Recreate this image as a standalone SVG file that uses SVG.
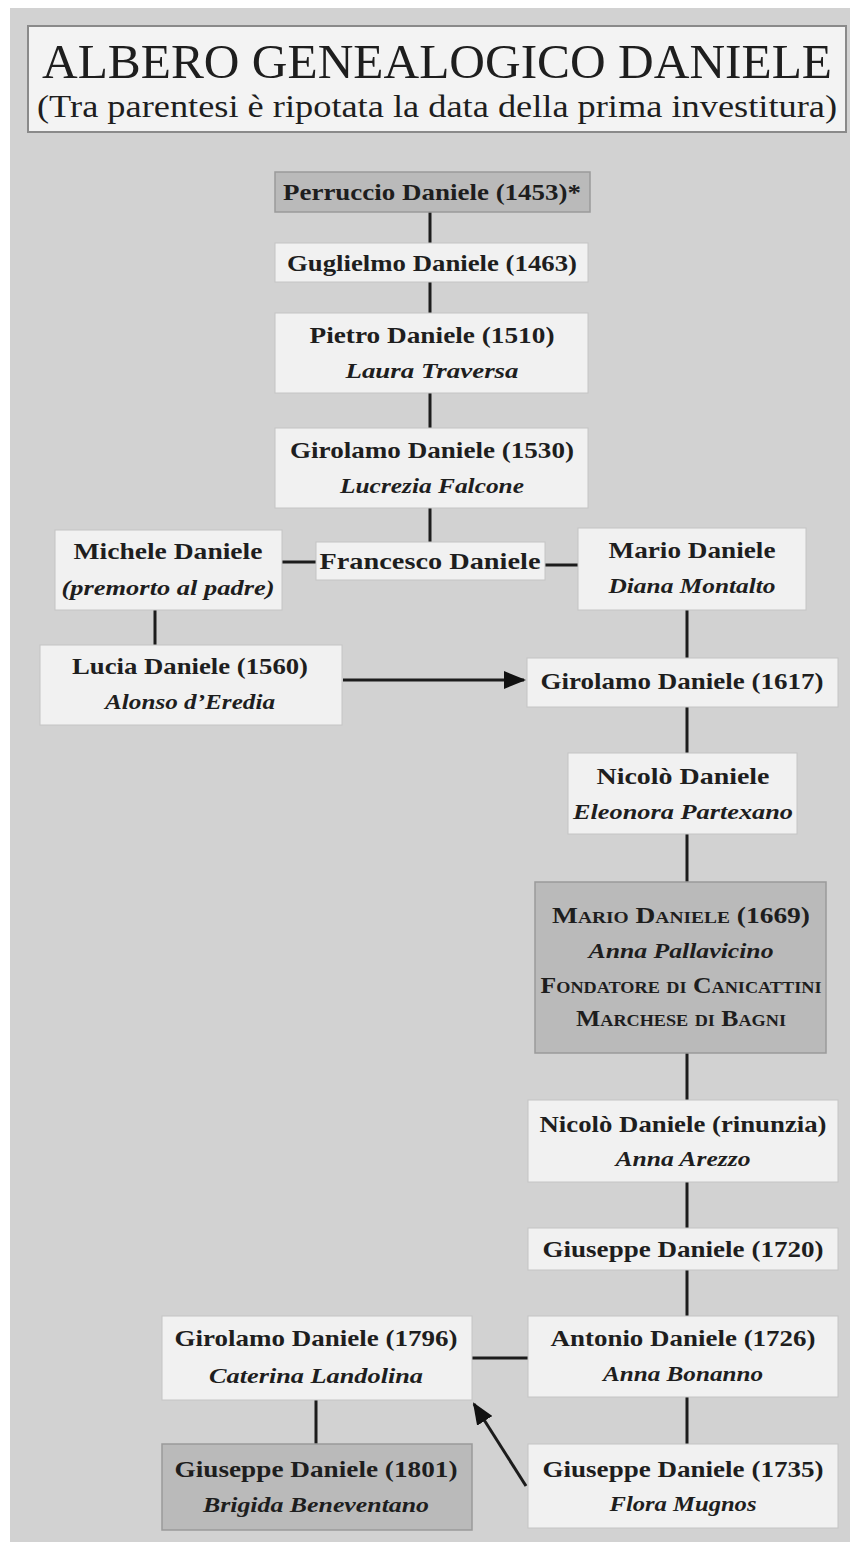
<svg xmlns="http://www.w3.org/2000/svg" width="854" height="1548" viewBox="0 0 854 1548">
<style>
.node{fill:#f1f1f1;stroke:#c4c4c4;stroke-width:1}
.dark{fill:#bababa;stroke:#9a9a9a;stroke-width:1.5}
text{font-family:"Liberation Serif","Times New Roman",serif;fill:#1e1e1e;text-anchor:middle}
.n{font-size:24px;font-weight:bold}
.i{font-size:21px;font-weight:bold;font-style:italic}
.sc{font-size:24px;font-weight:bold;font-variant:small-caps}
.ln{stroke:#1c1c1c;stroke-width:3;fill:none}
</style>
<defs>
<marker id="ah" markerWidth="22" markerHeight="18" refX="20" refY="9" orient="auto" markerUnits="userSpaceOnUse">
<path d="M0,0 L22,9 L0,18 Z" fill="#111"/>
</marker>
</defs>
<rect x="0" y="0" width="854" height="1548" fill="#ffffff"/>
<rect x="10" y="8" width="840" height="1534" fill="#d2d2d2"/>
<g id="title">
<rect x="28" y="26" width="818" height="106" fill="#f3f3f3" stroke="#8a8a8a" stroke-width="2"/>
<text x="437" y="78" style="font-size:49px" textLength="790" lengthAdjust="spacingAndGlyphs">ALBERO GENEALOGICO DANIELE</text>
<text x="437" y="117" style="font-size:31px" textLength="800" lengthAdjust="spacingAndGlyphs">(Tra parentesi è ripotata la data della prima investitura)</text>
</g>
<g id="connectors">
<line class="ln" x1="430" y1="212" x2="430" y2="243"/>
<line class="ln" x1="430" y1="282" x2="430" y2="313"/>
<line class="ln" x1="430" y1="393" x2="430" y2="428"/>
<line class="ln" x1="430" y1="508" x2="430" y2="542"/>
<line class="ln" x1="282" y1="562" x2="316" y2="562"/>
<line class="ln" x1="545" y1="565" x2="578" y2="565"/>
<line class="ln" x1="155" y1="610" x2="155" y2="645"/>
<line class="ln" x1="687" y1="610" x2="687" y2="658"/>
<line class="ln" x1="343" y1="680" x2="524" y2="680" marker-end="url(#ah)"/>
<line class="ln" x1="687" y1="707" x2="687" y2="753"/>
<line class="ln" x1="687" y1="834" x2="687" y2="882"/>
<line class="ln" x1="687" y1="1053" x2="687" y2="1100"/>
<line class="ln" x1="687" y1="1182" x2="687" y2="1228"/>
<line class="ln" x1="687" y1="1270" x2="687" y2="1316"/>
<line class="ln" x1="687" y1="1397" x2="687" y2="1444"/>
<line class="ln" x1="472" y1="1358" x2="528" y2="1358"/>
<line class="ln" x1="316" y1="1400" x2="316" y2="1444"/>
<line class="ln" x1="526" y1="1486" x2="474" y2="1404" marker-end="url(#ah)"/>
</g>
<g id="n1">
<rect class="dark" x="275" y="172" width="315" height="40"/>
<text class="n" x="432" y="200" textLength="298" lengthAdjust="spacingAndGlyphs">Perruccio Daniele (1453)*</text>
</g>
<g id="n2">
<rect class="node" x="275" y="243" width="313" height="39"/>
<text class="n" x="432" y="271" textLength="290" lengthAdjust="spacingAndGlyphs">Guglielmo Daniele (1463)</text>
</g>
<g id="n3">
<rect class="node" x="275" y="313" width="313" height="80"/>
<text class="n" x="432" y="343" textLength="245" lengthAdjust="spacingAndGlyphs">Pietro Daniele (1510)</text>
<text class="i" x="432" y="378" textLength="173" lengthAdjust="spacingAndGlyphs">Laura Traversa</text>
</g>
<g id="n4">
<rect class="node" x="275" y="428" width="313" height="80"/>
<text class="n" x="432" y="458" textLength="284" lengthAdjust="spacingAndGlyphs">Girolamo Daniele (1530)</text>
<text class="i" x="432" y="493" textLength="184" lengthAdjust="spacingAndGlyphs">Lucrezia Falcone</text>
</g>
<g id="n5">
<rect class="node" x="316" y="542" width="229" height="38"/>
<text class="n" x="430" y="569" textLength="221" lengthAdjust="spacingAndGlyphs">Francesco Daniele</text>
</g>
<g id="n6">
<rect class="node" x="55" y="530" width="227" height="80"/>
<text class="n" x="168" y="559" textLength="189" lengthAdjust="spacingAndGlyphs">Michele Daniele</text>
<text class="i" x="168" y="595" textLength="213" lengthAdjust="spacingAndGlyphs">(premorto al padre)</text>
</g>
<g id="n7">
<rect class="node" x="578" y="528" width="228" height="82"/>
<text class="n" x="692" y="558" textLength="167" lengthAdjust="spacingAndGlyphs">Mario Daniele</text>
<text class="i" x="692" y="593" textLength="167" lengthAdjust="spacingAndGlyphs">Diana Montalto</text>
</g>
<g id="n8">
<rect class="node" x="40" y="645" width="302" height="80"/>
<text class="n" x="190" y="674" textLength="236" lengthAdjust="spacingAndGlyphs">Lucia Daniele (1560)</text>
<text class="i" x="190" y="709" textLength="170" lengthAdjust="spacingAndGlyphs">Alonso d’Eredia</text>
</g>
<g id="n9">
<rect class="node" x="527" y="658" width="311" height="49"/>
<text class="n" x="682" y="689" textLength="283" lengthAdjust="spacingAndGlyphs">Girolamo Daniele (1617)</text>
</g>
<g id="n10">
<rect class="node" x="568" y="753" width="229" height="81"/>
<text class="n" x="683" y="784" textLength="173" lengthAdjust="spacingAndGlyphs">Nicolò Daniele</text>
<text class="i" x="683" y="819" textLength="220" lengthAdjust="spacingAndGlyphs">Eleonora Partexano</text>
</g>
<g id="n11">
<rect class="dark" x="535" y="882" width="291" height="171"/>
<text class="sc" x="681" y="923" textLength="258" lengthAdjust="spacingAndGlyphs">Mario Daniele (1669)</text>
<text class="i" x="681" y="958" textLength="185" lengthAdjust="spacingAndGlyphs">Anna Pallavicino</text>
<text class="sc" x="681" y="993" textLength="281" lengthAdjust="spacingAndGlyphs">Fondatore di Canicattini</text>
<text class="sc" x="681" y="1026" textLength="210" lengthAdjust="spacingAndGlyphs">Marchese di Bagni</text>
</g>
<g id="n12">
<rect class="node" x="528" y="1100" width="310" height="82"/>
<text class="n" x="683" y="1132" textLength="287" lengthAdjust="spacingAndGlyphs">Nicolò Daniele (rinunzia)</text>
<text class="i" x="683" y="1166" textLength="135" lengthAdjust="spacingAndGlyphs">Anna Arezzo</text>
</g>
<g id="n13">
<rect class="node" x="528" y="1228" width="310" height="42"/>
<text class="n" x="683" y="1257" textLength="281" lengthAdjust="spacingAndGlyphs">Giuseppe Daniele (1720)</text>
</g>
<g id="n14">
<rect class="node" x="528" y="1316" width="310" height="81"/>
<text class="n" x="683" y="1346" textLength="265" lengthAdjust="spacingAndGlyphs">Antonio Daniele (1726)</text>
<text class="i" x="683" y="1381" textLength="160" lengthAdjust="spacingAndGlyphs">Anna Bonanno</text>
</g>
<g id="n15">
<rect class="node" x="162" y="1316" width="310" height="84"/>
<text class="n" x="316" y="1346" textLength="283" lengthAdjust="spacingAndGlyphs">Girolamo Daniele (1796)</text>
<text class="i" x="316" y="1383" textLength="214" lengthAdjust="spacingAndGlyphs">Caterina Landolina</text>
</g>
<g id="n16">
<rect class="dark" x="162" y="1444" width="310" height="86"/>
<text class="n" x="316" y="1477" textLength="283" lengthAdjust="spacingAndGlyphs">Giuseppe Daniele (1801)</text>
<text class="i" x="316" y="1512" textLength="226" lengthAdjust="spacingAndGlyphs">Brigida Beneventano</text>
</g>
<g id="n17">
<rect class="node" x="528" y="1444" width="310" height="84"/>
<text class="n" x="683" y="1477" textLength="281" lengthAdjust="spacingAndGlyphs">Giuseppe Daniele (1735)</text>
<text class="i" x="683" y="1511" textLength="147" lengthAdjust="spacingAndGlyphs">Flora Mugnos</text>
</g>
</svg>
